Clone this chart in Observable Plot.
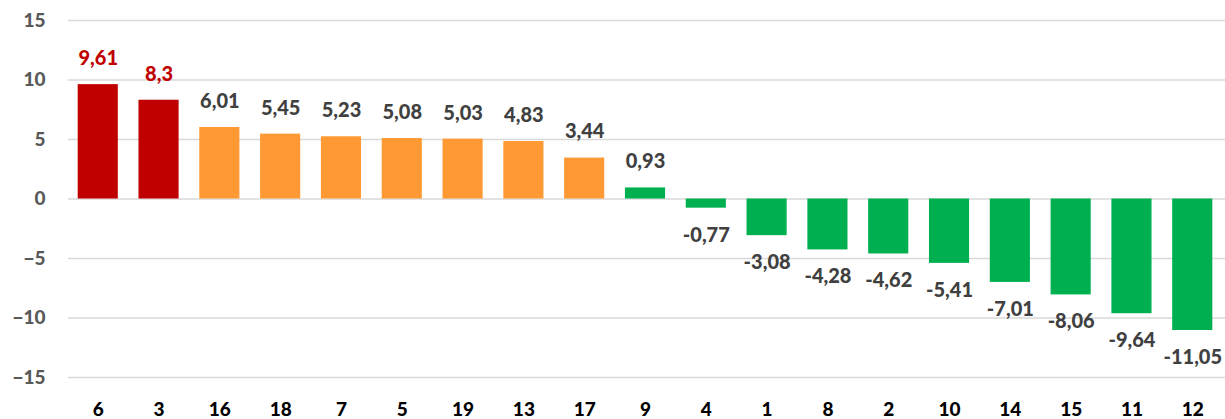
<!DOCTYPE html>
<html>
<head>
<meta charset="utf-8">
<script src="https://cdn.jsdelivr.net/npm/d3@7"></script>
<script src="https://cdn.jsdelivr.net/npm/@observablehq/plot@0.6"></script>
<style>
  html, body { margin: 0; padding: 0; background: #fff; }
  #chart svg { display: block; }
</style>
</head>
<body>
<div id="chart"></div>
<script>
const categories = ["6","3","16","18","7","5","19","13","17","9","4","1","8","2","10","14","15","11","12"];
const values = [9.61, 8.3, 6.01, 5.45, 5.23, 5.08, 5.03, 4.83, 3.44, 0.93, -0.77, -3.08, -4.28, -4.62, -5.41, -7.01, -8.06, -9.64, -11.05];
const groups = ["high","high","mid","mid","mid","mid","mid","mid","mid","low","low","low","low","low","low","low","low","low","low"];
const yTicks = [-15, -10, -5, 0, 5, 10, 15];

const groupColors = {high: "#C00000", mid: "#FF9933", low: "#00B050"};
const labelColors = {high: "#C00000", mid: "#404040", low: "#404040"};

const data = categories.map((c, i) => ({cat: c, v: values[i], g: groups[i]}));
const fmt = v => String(v).replace(".", ",");
const font = "Lato, 'Open Sans', sans-serif";

const chart = Plot.plot({
  width: 1225,
  height: 419,
  marginTop: 20,
  marginBottom: 42,
  marginLeft: 68,
  marginRight: 0,
  style: {fontFamily: font, background: "#fff"},
  x: {domain: categories, padding: 0.34, range: [57, 1233], round: false, label: null},
  y: {domain: [-15, 15], label: null},
  marks: [
    Plot.gridY(yTicks, {stroke: "#D9D9D9", strokeOpacity: 1, strokeWidth: 1.5}),
    Plot.barY(data, {x: "cat", y: "v", fill: d => groupColors[d.g]}),
    Plot.text(data.filter(d => d.v >= 0), {
      x: "cat", y: "v", text: d => fmt(d.v), dy: -26,
      fill: d => labelColors[d.g], fontSize: 20, fontWeight: 900
    }),
    Plot.text(data.filter(d => d.v < 0), {
      x: "cat", y: "v", text: d => fmt(d.v), dy: 27,
      fill: d => labelColors[d.g], fontSize: 20, fontWeight: 900
    }),
    Plot.axisY(yTicks, {
      tickSize: 0, tickPadding: 0, dx: -23, textAnchor: "end",
      fontSize: 19, fontWeight: 900, fill: "#595959", label: null
    }),
    Plot.axisX({
      tickSize: 0, tickPadding: 25, fontSize: 19, fontWeight: 900,
      fill: "#000", label: null
    })
  ]
});
document.getElementById("chart").appendChild(chart);
</script>
</body>
</html>
